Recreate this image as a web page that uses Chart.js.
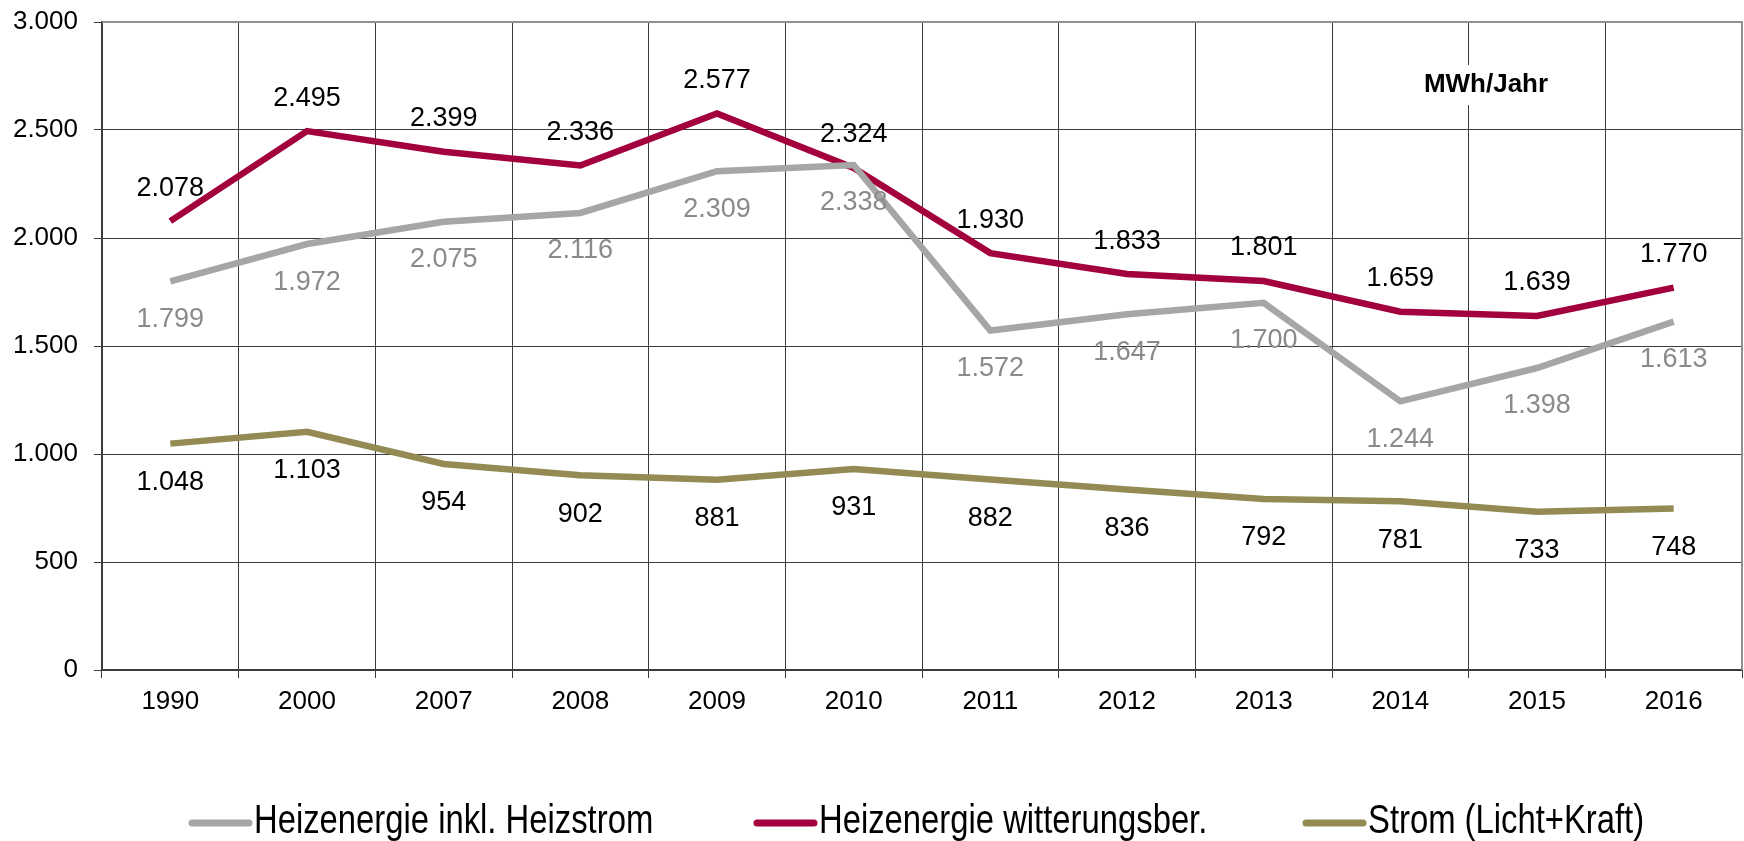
<!DOCTYPE html>
<html><head><meta charset="utf-8">
<script src="https://cdn.jsdelivr.net/npm/chart.js@4.4.0/dist/chart.umd.min.js"></script>
<style>html,body{margin:0;padding:0;background:#fff;overflow:hidden}#wrap{width:1744px;height:841px;position:relative}</style>
</head><body><div id="wrap"><canvas id="c" width="1744" height="841"></canvas></div>
<script>
const years = ['1990','2000','2007','2008','2009','2010','2011','2012','2013','2014','2015','2016'];
const heizInkl = [1799,1972,2075,2116,2309,2338,1572,1647,1700,1244,1398,1613];
const heizWitt = [2078,2495,2399,2336,2577,2324,1930,1833,1801,1659,1639,1770];
const strom = [1048,1103,954,902,881,931,882,836,792,781,733,748];
const seriesNames = ['Heizenergie inkl. Heizstrom','Heizenergie witterungsber.','Strom (Licht+Kraft)'];
const unitLabel = 'MWh/Jahr';

const fmt = v => String(v).replace(/\B(?=(\d{3})+(?!\d))/g, '.');
const FONT = "'Liberation Sans', Arial, sans-serif";

const labelOffsets = [38, -33, 39];
const labelColors = ['#8a8a8a', '#000000', '#000000'];

const dataLabelPlugin = {
  id: 'dataLabels',
  afterDatasetsDraw(chart) {
    const ctx = chart.ctx;
    ctx.save();
    ctx.font = '27px ' + FONT;
    ctx.textAlign = 'center';
    ctx.textBaseline = 'middle';
    chart.data.datasets.forEach((ds, i) => {
      const meta = chart.getDatasetMeta(i);
      meta.data.forEach((pt, j) => {
        ctx.fillStyle = labelColors[i];
        ctx.fillText(fmt(ds.data[j]), pt.x, pt.y + labelOffsets[i]);
      });
    });
    ctx.restore();
  }
};

const framePlugin = {
  id: 'frame',
  beforeDatasetsDraw(chart) {
    const {ctx, chartArea: a} = chart;
    ctx.save();
    ctx.strokeStyle = '#8f8f8f';
    ctx.lineWidth = 2;
    ctx.beginPath();
    ctx.moveTo(a.left, a.top);
    ctx.lineTo(a.right, a.top);
    ctx.lineTo(a.right, a.bottom);
    ctx.stroke();
    const cx = a.right - 256, cy = a.top + 63;
    ctx.fillStyle = '#ffffff';
    ctx.fillRect(cx - 68, cy - 20, 136, 40);
    ctx.fillStyle = '#000000';
    ctx.font = 'bold 26px ' + FONT;
    ctx.textAlign = 'center';
    ctx.textBaseline = 'middle';
    ctx.fillText(unitLabel, cx, cy);
    ctx.restore();
  }
};

// Legend drawn with condensed (narrow) text, like the original
const legendPlugin = {
  id: 'narrowLegend',
  afterDraw(chart) {
    const ctx = chart.ctx;
    const starts = [189, 754, 1303];
    const y = 822, lineLen = 63, sx = 0.82;
    ctx.save();
    chart.data.datasets.forEach((ds, i) => {
      const x0 = starts[i];
      ctx.strokeStyle = ds.borderColor;
      ctx.lineWidth = 7;
      ctx.lineCap = 'round';
      ctx.beginPath();
      ctx.moveTo(x0 + 3, y + 1);
      ctx.lineTo(x0 + lineLen - 3, y + 1);
      ctx.stroke();
      ctx.save();
      ctx.translate(x0 + lineLen + 2, y);
      ctx.scale(sx, 1);
      ctx.fillStyle = '#000';
      ctx.font = '40px ' + FONT;
      ctx.textAlign = 'left';
      ctx.textBaseline = 'middle';
      ctx.fillText(ds.label, 0, 0);
      ctx.restore();
    });
    ctx.restore();
  }
};

const colors = ['#a6a6a6', '#a3003e', '#948a54'];
const seriesData = [heizInkl, heizWitt, strom];

new Chart(document.getElementById('c'), {
  type: 'line',
  data: {
    labels: years,
    datasets: seriesData.map((d, i) => ({
      label: seriesNames[i],
      data: d,
      borderColor: colors[i],
      backgroundColor: colors[i],
      borderWidth: 6.5,
      pointRadius: 0,
      pointHoverRadius: 0,
      tension: 0,
      fill: false
    }))
  },
  options: {
    responsive: false,
    devicePixelRatio: 1,
    animation: false,
    events: [],
    layout: { padding: { top: 22, right: 2, left: 0, bottom: 129 } },
    plugins: {
      tooltip: { enabled: false },
      legend: { display: false }
    },
    scales: {
      x: {
        type: 'category',
        offset: true,
        grid: { offset: true, color: '#3c3c3c', lineWidth: 1, drawTicks: true, tickLength: 8, tickColor: '#3c3c3c' },
        border: { color: '#3c3c3c', width: 2 },
        ticks: { color: '#000', font: { family: FONT, size: 26 }, padding: 8, maxRotation: 0, autoSkip: false },
        afterFit(scale) { scale.height = 42; scale.paddingLeft = 0; scale.paddingRight = 0; }
      },
      y: {
        min: 0, max: 3000,
        grid: { color: '#3c3c3c', lineWidth: 1, drawTicks: true, tickLength: 8, tickColor: '#3c3c3c' },
        border: { color: '#3c3c3c', width: 2 },
        ticks: { stepSize: 500, color: '#000', font: { family: FONT, size: 26 }, padding: 16, callback: v => fmt(v) },
        afterFit(scale) { scale.width = 102; scale.paddingTop = 0; scale.paddingBottom = 0; }
      }
    }
  },
  plugins: [framePlugin, dataLabelPlugin, legendPlugin]
});
</script>
</body></html>
